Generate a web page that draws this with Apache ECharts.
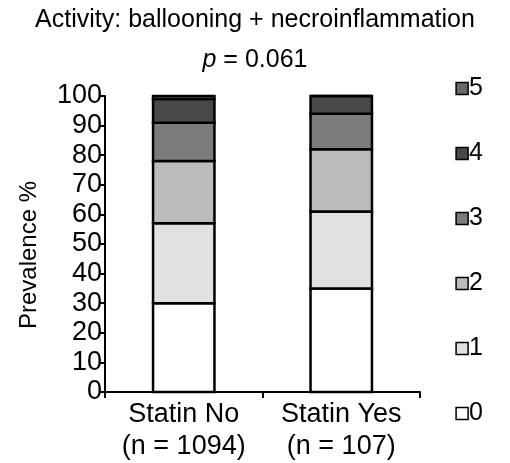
<!DOCTYPE html>
<html>
<head>
<meta charset="utf-8">
<script src="https://cdn.jsdelivr.net/npm/echarts@6/dist/echarts.min.js"></script>
<style>
  html, body { margin: 0; padding: 0; background: #fff; }
  #chart { width: 510px; height: 463px; }
</style>
</head>
<body>
<div id="chart"></div>
<script>
// Activity score groups (stacked from bottom to top)
const categories = ['Statin No\n(n = 1094)', 'Statin Yes\n(n = 107)'];
const scoreNames = ['0', '1', '2', '3', '4', '5'];
const score0 = [30, 35];
const score1 = [27, 26];
const score2 = [21, 21];
const score3 = [13, 12];
const score4 = [8, 6];
const score5 = [1, 0];
const yTicks = [0, 10, 20, 30, 40, 50, 60, 70, 80, 90, 100];

const seriesValues = [score0, score1, score2, score3, score4, score5];
const fills = ['#ffffff', '#e1e1e1', '#bcbcbc', '#7b7b7b', '#484848', '#6a6a6a'];
const FONT = 'Liberation Sans, Arial, sans-serif';
const BAR_FRACTION = 0.39;

// Stack the segments: each item is [category, base, top]
const running = categories.map(() => 0);
const stackedData = seriesValues.map(vals =>
  vals.map((v, c) => {
    const base = running[c];
    running[c] += v;
    return [c, base, running[c]];
  })
);

// Outlined rectangle per segment, stroke centred on the edges so shared
// boundaries between stacked segments collapse into a single line.
function renderSegment(params, api) {
  const c = api.value(0);
  const lo = api.coord([c, api.value(1)]);
  const hi = api.coord([c, api.value(2)]);
  const w = api.size([1, 0])[0] * BAR_FRACTION;
  return {
    type: 'rect',
    shape: { x: lo[0] - w / 2, y: hi[1], width: w, height: lo[1] - hi[1] },
    style: { fill: api.visual('color'), stroke: '#000', lineWidth: 2.5 }
  };
}

const chart = echarts.init(document.getElementById('chart'));

chart.setOption({
  animation: false,
  backgroundColor: '#ffffff',
  title: [
    {
      text: 'Activity: ballooning + necroinflammation',
      left: 'center', top: 3,
      textStyle: { fontFamily: FONT, fontSize: 25, fontWeight: 'normal', color: '#000' }
    },
    {
      text: '{i|p} = 0.061',
      left: 'center', top: 43,
      textStyle: {
        fontFamily: FONT, fontSize: 25, fontWeight: 'normal', color: '#000',
        rich: { i: { fontFamily: FONT, fontSize: 25, fontStyle: 'italic', color: '#000' } }
      }
    }
  ],
  legend: {
    orient: 'vertical',
    right: 22, top: 71,
    data: scoreNames.slice().reverse(),
    icon: 'rect',
    itemWidth: 12, itemHeight: 12,
    itemGap: 40,
    itemStyle: { borderColor: '#000', borderWidth: 1.5 },
    textStyle: { fontFamily: FONT, fontSize: 25, color: '#000', padding: [0, 0, 0, -4] }
  },
  grid: { left: 105, right: 90, top: 96, bottom: 69, containLabel: false },
  xAxis: {
    type: 'category',
    data: categories,
    axisLine: { lineStyle: { color: '#000', width: 2 } },
    axisTick: { show: true, length: 6, lineStyle: { color: '#000', width: 2 } },
    axisLabel: {
      fontFamily: FONT, fontSize: 27, color: '#000', lineHeight: 32, margin: 7,
      interval: 0, hideOverlap: false
    }
  },
  yAxis: {
    type: 'value',
    min: 0, max: 100, interval: 10,
    name: 'Prevalence %',
    nameLocation: 'middle',
    nameGap: 64,
    nameTextStyle: { fontFamily: FONT, fontSize: 24, color: '#000', padding: [0, 22, 0, 0] },
    splitLine: { show: false },
    axisLine: { show: true, lineStyle: { color: '#000', width: 2 } },
    axisTick: { show: true, length: 6, lineStyle: { color: '#000', width: 2 } },
    axisLabel: {
      fontFamily: FONT, fontSize: 27, color: '#000', margin: 3,
      formatter: v => (yTicks.includes(v) ? String(v) : '')
    }
  },
  series: stackedData.map((items, i) => ({
    name: scoreNames[i],
    type: 'custom',
    renderItem: renderSegment,
    encode: { x: 0, y: [1, 2] },
    itemStyle: { color: fills[i] },
    data: items
  }))
});
</script>
</body>
</html>
